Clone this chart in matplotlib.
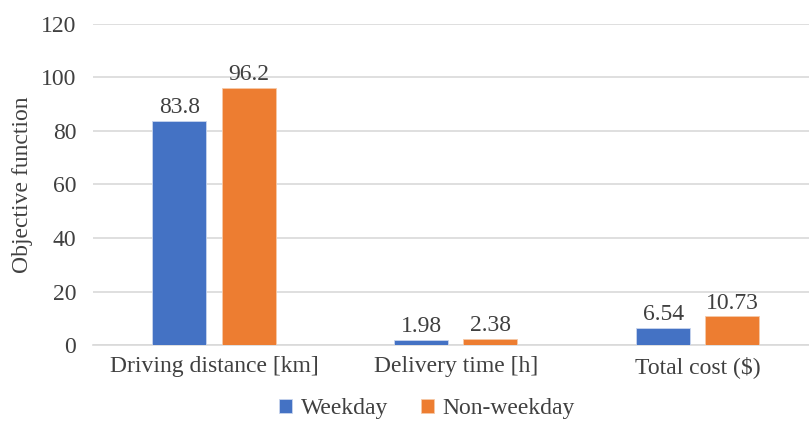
import matplotlib
matplotlib.use("Agg")
import matplotlib.pyplot as plt
import numpy as np

categories = ["Driving distance [km]", "Delivery time [h]", "Total cost ($)"]
weekday = [83.8, 1.98, 6.54]
non_weekday = [96.2, 2.38, 10.73]
series_names = ["Weekday", "Non-weekday"]

text_color = "#404040"
plt.rcParams["font.family"] = ["Liberation Serif", "DejaVu Serif"]
plt.rcParams["text.color"] = text_color
fs = 17

fig = plt.figure(figsize=(8.09, 4.26), dpi=100)
ax = fig.add_axes([0.115, 0.19, 0.897, 0.754])

x = np.arange(len(categories))
width = 0.223
offset = 0.143
bars1 = ax.bar(x - offset, weekday, width, color="#4472C4", edgecolor="#c9d5ee",
               linewidth=0.6, label=series_names[0], zorder=3)
bars2 = ax.bar(x + offset, non_weekday, width, color="#ED7D31", edgecolor="#f6c9a8",
               linewidth=0.6, label=series_names[1], zorder=3)

for bars in (bars1, bars2):
    for b in bars:
        h = b.get_height()
        ax.annotate(f"{h:g}", (b.get_x() + b.get_width() / 2, h),
                    xytext=(0, 2), textcoords="offset points",
                    ha="center", va="bottom", fontsize=fs, color=text_color)

ax.set_xlim(-0.5, 2.5)
ax.set_ylim(0, 120)
ax.set_yticks(np.arange(0, 121, 20))
ax.set_xticks(x)
ax.set_xticklabels(categories)
ax.tick_params(axis="both", length=0, labelsize=fs, colors=text_color)
ax.tick_params(axis="x", pad=8)
ax.tick_params(axis="y", pad=12)
ax.yaxis.grid(True, color="#d9d9d9", linewidth=1.2, zorder=0)
for side in ("top", "right", "left"):
    ax.spines[side].set_visible(False)
ax.spines["bottom"].set_color("#d9d9d9")
ax.spines["bottom"].set_linewidth(1.2)
ax.set_ylabel("Objective function", fontsize=fs, color=text_color, labelpad=6)

fig.legend(handles=[bars1, bars2], labels=series_names, loc="center",
           bbox_to_anchor=(0.528, 0.04), ncol=2, frameon=False, fontsize=fs,
           handlelength=0.55, handleheight=0.55, handletextpad=0.35, columnspacing=1.4)

fig.savefig("out.png", dpi=100)
